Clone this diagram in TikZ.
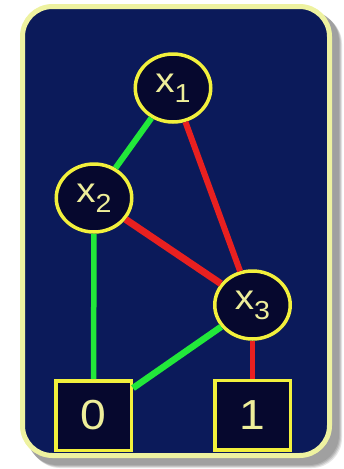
\documentclass[tikz,border=0pt]{standalone}
\usepackage{fontspec}
\setmainfont{Liberation Sans}
\usetikzlibrary{shapes.geometric}
\definecolor{navy}{HTML}{0B1A5A}
\definecolor{darkfill}{HTML}{06082E}
\definecolor{ring}{HTML}{F2F03C}
\definecolor{pale}{HTML}{EEEE9A}
\definecolor{framecol}{HTML}{EEF2A0}
\definecolor{grn}{HTML}{22E83A}
\definecolor{rd}{HTML}{E82020}
\definecolor{shadowcol}{HTML}{9A9A9A}
\newcommand{\varlabel}[1]{\scalebox{1.1}[1]{\fontsize{35}{35}\selectfont x\raisebox{-10pt}{\fontsize{26}{26}\selectfont #1}}}
\begin{document}
\begin{tikzpicture}[x=1pt,y=-1pt,
  varnode/.style={ellipse, draw=ring, line width=3.5pt, fill=darkfill,
    minimum width=75.5pt, minimum height=68pt, inner sep=0pt, text=pale},
  termnode/.style={rectangle, draw=ring, line width=3.5pt, fill=darkfill,
    minimum width=75.5pt, minimum height=69.5pt, inner sep=0pt, text=pale,
    font=\fontsize{42}{42}\selectfont},
  hi/.style={draw=grn, line width=6pt},
  lo/.style={draw=rd, line width=6pt}]
\useasboundingbox (0,0) rectangle (344,469);
\fill[white] (0,0) rectangle (344,469);
% shadow
\foreach \o/\op in {10/0.25,9/0.35,8/0.5,7/0.7}{
  \fill[shadowcol, opacity=\op, rounded corners=30pt] (20+\o,4+\o) rectangle (332+\o,458+\o);
}
% frame
\draw[framecol, line width=5pt, fill=navy, rounded corners=30pt] (22.5,6.5) rectangle (329.5,455.5);
% nodes
\node[varnode] (x1) at (173,88) {\varlabel{1}};
\node[varnode] (x2) at (94,198) {\varlabel{2}};
\node[varnode] (x3) at (252.5,305) {\varlabel{3}};
\node[termnode] (b0) at (93.5,415.5) {\scalebox{1.1}[1]{0}};
\node[termnode] (b1) at (252.5,415) {\scalebox{1.1}[1]{1}};
% edges
\draw[hi] (x1) -- (x2);
\draw[lo] (x1) -- (x3);
\draw[lo, line width=7pt] (x2) -- (x3);
\draw[hi, line width=5.5pt] (x2) -- (b0);
\draw[hi, line width=6.5pt] (x3) -- (b0);
\draw[lo, line width=5pt] (x3) -- (b1);
\end{tikzpicture}
\end{document}
